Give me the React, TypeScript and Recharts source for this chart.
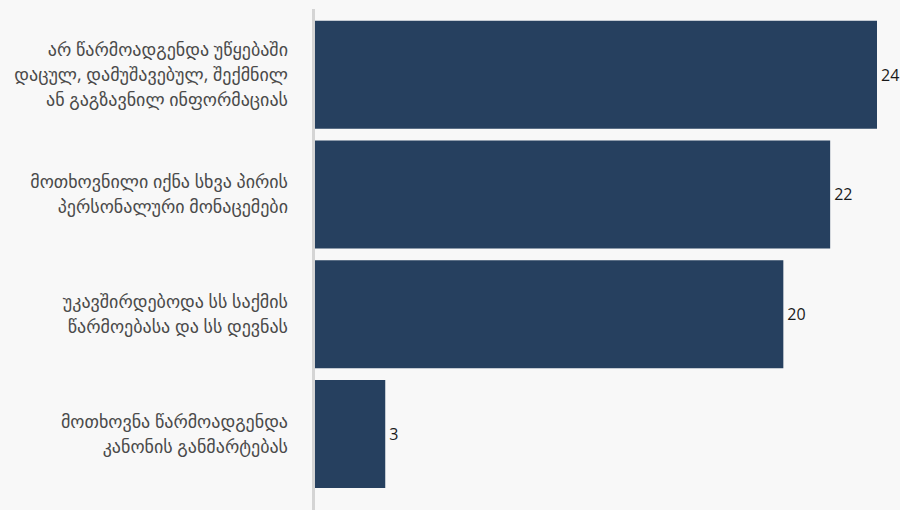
import React from "react";
import { BarChart, Bar, XAxis, YAxis, LabelList } from "recharts";

const categories = [
  "არ წარმოადგენდა უწყებაში დაცულ, დამუშავებულ, შექმნილ ან გაგზავნილ ინფორმაციას",
  "მოთხოვნილი იქნა სხვა პირის პერსონალური მონაცემები",
  "უკავშირდებოდა სს საქმის წარმოებასა და სს დევნას",
  "მოთხოვნა წარმოადგენდა კანონის განმარტებას",
];
const categoryLines = [
  ["არ წარმოადგენდა უწყებაში", "დაცულ, დამუშავებულ, შექმნილ", "ან გაგზავნილ ინფორმაციას"],
  ["მოთხოვნილი იქნა სხვა პირის", "პერსონალური მონაცემები"],
  ["უკავშირდებოდა სს საქმის", "წარმოებასა და სს დევნას"],
  ["მოთხოვნა წარმოადგენდა", "კანონის განმარტებას"],
];
const values = [24, 22, 20, 3];

const data = categories.map((c, i) => ({ name: c, idx: i, value: values[i] }));

const FONT = "'Open Sans', 'DejaVu Sans', sans-serif";

const Tick = (props: any) => {
  const { x, y, payload } = props;
  const lines = categoryLines[payload.index] || [String(payload.value)];
  const lh = 25;
  const start = -((lines.length - 1) * lh) / 2;
  const tx = x - 19;
  return (
    <text x={tx} y={y} textAnchor="end" fill="#4a4a4a" fontSize={18} fontFamily={FONT}>
      {lines.map((l: string, i: number) => (
        <tspan key={i} x={tx} y={y + start + i * lh} dy="0.35em">
          {l}
        </tspan>
      ))}
    </text>
  );
};

export default function App() {
  return (
    <div
      style={{
        position: "fixed",
        left: 0,
        top: 0,
        width: 900,
        height: 510,
        background: "#f8f8f8",
      }}
    >
      <BarChart
        width={900}
        height={510}
        data={data}
        layout="vertical"
        margin={{ top: 9, right: 23, bottom: 0, left: 0 }}
        barCategoryGap="4.9%"
      >
        <XAxis type="number" domain={[0, 24]} hide />
        <YAxis
          type="category"
          dataKey="name"
          width={315}
          axisLine={{ stroke: "#d4d4d4", strokeWidth: 3, transform: "translate(-1.5,0)" }}
          tickLine={false}
          tick={<Tick />}
          interval={0}
          padding={{ top: 6, bottom: 16 }}
        />
        <Bar dataKey="value" fill="#26405f" isAnimationActive={false}>
          <LabelList
            dataKey="value"
            position="right"
            offset={4}
            fill="#1a1a1a"
            fontSize={16}
            fontFamily={FONT}
          />
        </Bar>
      </BarChart>
    </div>
  );
}
